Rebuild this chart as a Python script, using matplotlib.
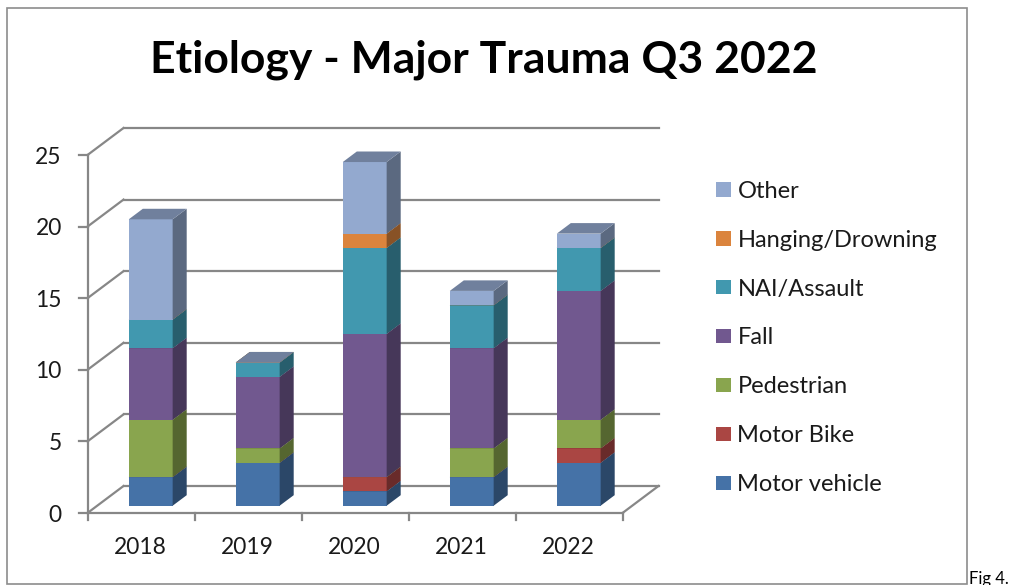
import numpy as np
import matplotlib.pyplot as plt
from matplotlib.patches import Polygon, Patch, Rectangle
from matplotlib.colors import to_rgb

plt.rcParams['font.family'] = ['Lato', 'DejaVu Sans']

years = ['2018', '2019', '2020', '2021', '2022']
series_names = ['Motor vehicle', 'Motor Bike', 'Pedestrian', 'Fall',
                'NAI/Assault', 'Hanging/Drowning', 'Other']
motor_vehicle = [2, 3, 1, 2, 3]
motor_bike = [0, 0, 1, 0, 1]
pedestrian = [4, 1, 0, 2, 2]
fall = [5, 5, 10, 7, 9]
nai_assault = [2, 1, 6, 3, 3]
hanging = [0, 0, 1, 0, 0]
other = [7, 0, 5, 1, 1]
y_ticks = [0, 5, 10, 15, 20, 25]

series = [motor_vehicle, motor_bike, pedestrian, fall, nai_assault, hanging, other]
colors = ['#4572A7', '#AA4643', '#89A54E', '#71588F', '#4198AF', '#DB843D', '#93A9CF']

# pixel geometry of the oblique "3d" view
W, H = 1019, 585
x0_px, y0_px = 87.5, 513.0       # front-left corner of the floor
cat_px = 107.0                   # width of one category
unit_px = 14.32                  # pixels per value unit
depth_dx = 36.0 / cat_px         # back wall offset, x units
depth_dy = 27.0 / unit_px        # back wall offset, value units
z_front, z_back = 0.27, 0.66     # bar depth inside the box
bar_w = 0.41

grid_col = '#878787'


def shade(c, f):
    r, g, b = to_rgb(c)
    return (r * f, g * f, b * f)


def proj(x, y, z):
    return (x + z * depth_dx, y + z * depth_dy)


fig = plt.figure(figsize=(W / 100, H / 100), dpi=100)
ax = fig.add_axes([0, 0, 1, 1])
ax.set_xlim(-x0_px / cat_px, (W - x0_px) / cat_px)
ax.set_ylim((y0_px - H) / unit_px, y0_px / unit_px)
ax.axis('off')

n = len(years)
top = y_ticks[-1]
lw = 1.6

# walls and grid
for v in y_ticks:
    bx, by = proj(0, v, 1)
    ax.plot([bx, n + depth_dx], [by, by], color=grid_col, lw=lw, zorder=1)
    ax.plot([0, bx], [v, by], color=grid_col, lw=lw, zorder=1)
    ax.plot([-0.08, 0], [v, v], color=grid_col, lw=lw, zorder=1)
    ax.text(-0.24, v - 0.15, str(v), ha='right', va='center', fontsize=16.4, color='#1a1a1a')
ax.plot([0, 0], [0, top], color=grid_col, lw=lw, zorder=1)
ax.plot([0, n], [0, 0], color=grid_col, lw=lw, zorder=1)
ax.plot([n, n + depth_dx], [0, depth_dy], color=grid_col, lw=lw, zorder=1)
for i in range(n + 1):
    ax.plot([i, i], [0, -0.5], color=grid_col, lw=lw, zorder=1)

for i, yr in enumerate(years):
    ax.text(i + 0.495, -2.44, yr, ha='center', va='center', fontsize=16.4, color='#1a1a1a')

# stacked bars
for i in range(n):
    xl = i + 0.5 - bar_w / 2
    xr = i + 0.5 + bar_w / 2
    base = 0.0
    for vals, c in zip(series, colors):
        h = vals[i]
        y1 = base + h
        fl = proj(xl, base, z_front)
        fr = proj(xr, base, z_front)
        tl = proj(xl, y1, z_front)
        tr = proj(xr, y1, z_front)
        br_b = proj(xr, base, z_back)
        br_t = proj(xr, y1, z_back)
        bl_t = proj(xl, y1, z_back)
        if h > 0:
            ax.add_patch(Polygon([fl, fr, tr, tl], closed=True, facecolor=c,
                                 edgecolor='none', zorder=3))
            ax.add_patch(Polygon([fr, br_b, br_t, tr], closed=True, facecolor=shade(c, 0.62),
                                 edgecolor='none', zorder=3))
        ax.add_patch(Polygon([tl, tr, br_t, bl_t], closed=True, facecolor=shade(c, 0.76),
                             edgecolor='none', zorder=3))
        base = y1

# legend
handles = [Patch(facecolor=c, edgecolor='none') for c in colors][::-1]
ax.legend(handles, series_names[::-1], loc='center left',
          bbox_to_anchor=(716 / W, 1 - 338 / H), bbox_transform=fig.transFigure,
          frameon=False, fontsize=17, borderpad=0, borderaxespad=0,
          handlelength=0.64, handleheight=0.55, handletextpad=0.27,
          labelspacing=1.18, labelcolor='#1a1a1a')

fig.text(484 / W, 1 - 60 / H, 'Etiology - Major Trauma Q3 2022', ha='center', va='center',
         fontsize=32, fontweight='bold', color='black')

fig.patches.append(Rectangle((7 / W, 1 / H), 960 / W, 576 / H, transform=fig.transFigure,
                             fill=False, edgecolor='#8c8c8c', lw=1.2))
fig.text(969 / W, 1 - 579 / H, 'Fig 4.', ha='left', va='center', fontsize=12, color='black')

fig.savefig('out.png', dpi=100)
